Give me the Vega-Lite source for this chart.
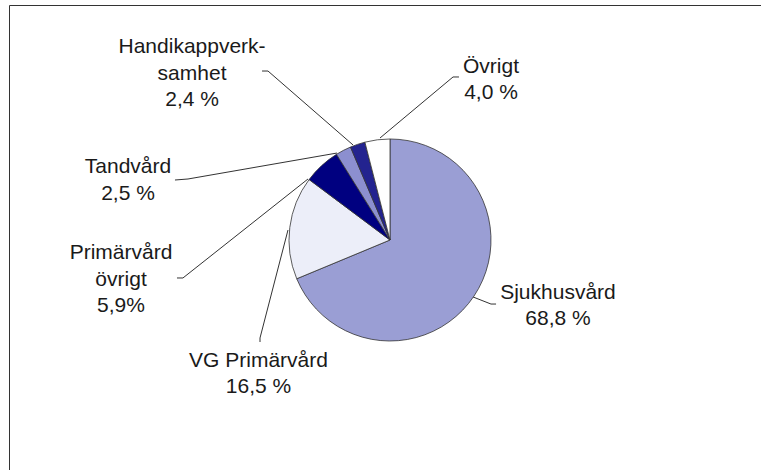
{
  "$schema": "https://vega.github.io/schema/vega-lite/v6.json",
  "width": 761,
  "height": 470,
  "autosize": {"type": "fit", "contains": "padding"},
  "padding": {"left": 9, "top": 5, "right": 0, "bottom": 0},
  "background": "white",
  "config": {"view": {"stroke": null}, "font": "Liberation Sans"},
  "datasets": {
    "slices": [
      {"category": "Sjukhusvård", "value": 68.8, "rank": 1},
      {"category": "VG Primärvård", "value": 16.5, "rank": 2},
      {"category": "Primärvård övrigt", "value": 5.9, "rank": 3},
      {"category": "Tandvård", "value": 2.5, "rank": 4},
      {"category": "Handikappverksamhet", "value": 2.4, "rank": 5},
      {"category": "Övrigt", "value": 4.0, "rank": 6}
    ],
    "labels": [
      {"label": "Handikappverk-\nsamhet\n2,4 %", "x": -1.960, "y": 1.851},
      {"label": "Övrigt\n4,0 %", "x": 1.0, "y": 1.656},
      {"label": "Tandvård\n2,5 %", "x": -2.594, "y": 0.660},
      {"label": "Primärvård\növrigt\n5,9%", "x": -2.663, "y": -0.191},
      {"label": "VG Primärvård\n16,5 %", "x": -1.302, "y": -1.257},
      {"label": "Sjukhusvård\n68,8 %", "x": 1.663, "y": -0.584}
    ],
    "leaders": [
      {"id": "Handikapp", "step": 1, "x": -1.267, "y": 1.673},
      {"id": "Handikapp", "step": 2, "x": -1.208, "y": 1.673},
      {"id": "Handikapp", "step": 3, "x": -0.366, "y": 0.941},
      {"id": "Övrigt", "step": 1, "x": 0.683, "y": 1.614},
      {"id": "Övrigt", "step": 2, "x": 0.624, "y": 1.614},
      {"id": "Övrigt", "step": 3, "x": -0.099, "y": 1.010},
      {"id": "Tandvård", "step": 1, "x": -2.129, "y": 0.594},
      {"id": "Tandvård", "step": 2, "x": -2.0, "y": 0.604},
      {"id": "Tandvård", "step": 3, "x": -0.525, "y": 0.861},
      {"id": "Primärvård övrigt", "step": 1, "x": -2.109, "y": -0.376},
      {"id": "Primärvård övrigt", "step": 2, "x": -2.050, "y": -0.376},
      {"id": "Primärvård övrigt", "step": 3, "x": -0.812, "y": 0.604},
      {"id": "VG", "step": 1, "x": -1.287, "y": -1.010},
      {"id": "VG", "step": 2, "x": -1.287, "y": -0.970},
      {"id": "VG", "step": 3, "x": -1.010, "y": 0.099},
      {"id": "Sjukhus", "step": 1, "x": 1.050, "y": -0.634},
      {"id": "Sjukhus", "step": 2, "x": 1.0, "y": -0.634},
      {"id": "Sjukhus", "step": 3, "x": 0.822, "y": -0.564}
    ]
  },
  "layer": [
    {
      "data": {"name": "leaders"},
      "mark": {"type": "line", "color": "#333333", "strokeWidth": 1},
      "encoding": {
        "x": {
          "field": "x", "type": "quantitative",
          "scale": {"domain": [-3.7723, 3.6733], "nice": false, "zero": false},
          "axis": {"orient": "top", "labels": false, "ticks": false, "grid": false, "title": null, "domainColor": "#333333", "domainWidth": 1}
        },
        "y": {
          "field": "y", "type": "quantitative",
          "scale": {"domain": [-2.2772, 2.3267], "nice": false, "zero": false},
          "axis": {"orient": "left", "labels": false, "ticks": false, "grid": false, "title": null, "domainColor": "#333333", "domainWidth": 1}
        },
        "detail": {"field": "id"},
        "order": {"field": "step"}
      }
    },
    {
      "data": {"name": "slices"},
      "mark": {"type": "arc", "outerRadius": 101, "stroke": "#333333", "strokeWidth": 0.8},
      "encoding": {
        "x": {"datum": 0, "type": "quantitative"},
        "y": {"datum": 0, "type": "quantitative"},
        "theta": {"field": "value", "type": "quantitative"},
        "order": {"field": "rank"},
        "color": {
          "field": "category", "type": "nominal", "legend": null,
          "scale": {
            "domain": ["Sjukhusvård", "VG Primärvård", "Primärvård övrigt", "Tandvård", "Handikappverksamhet", "Övrigt"],
            "range": ["#9a9ed4", "#eceef9", "#000080", "#8c8fd0", "#23238f", "#ffffff"]
          }
        }
      }
    },
    {
      "data": {"name": "labels"},
      "mark": {"type": "text", "align": "center", "baseline": "alphabetic", "fontSize": 21, "lineBreak": "\n", "lineHeight": 26.5, "color": "#1a1a1a"},
      "encoding": {
        "x": {"field": "x", "type": "quantitative"},
        "y": {"field": "y", "type": "quantitative"},
        "text": {"field": "label"}
      }
    }
  ]
}
